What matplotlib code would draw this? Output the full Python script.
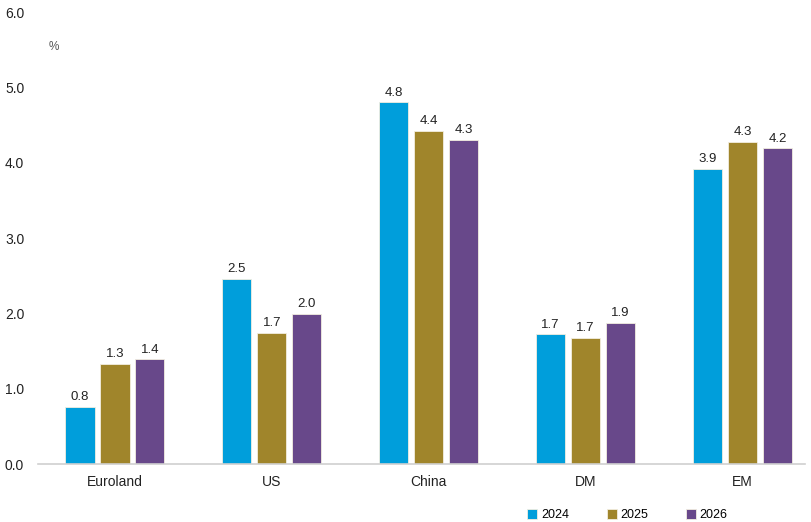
import numpy as np
import matplotlib.pyplot as plt

# GDP growth forecasts by region, %
regions = ["Euroland", "US", "China", "DM", "EM"]
years = ["2024", "2025", "2026"]
growth_2024 = [0.76, 2.46, 4.80, 1.72, 3.92]
growth_2025 = [1.33, 1.74, 4.42, 1.67, 4.28]
growth_2026 = [1.39, 1.99, 4.30, 1.87, 4.19]
y_ticks = [0.0, 1.0, 2.0, 3.0, 4.0, 5.0, 6.0]

colors = ["#009EDB", "#A0852B", "#68488A"]

plt.rcParams['font.family'] = ['Liberation Sans Narrow', 'Liberation Sans', 'DejaVu Sans']

fig = plt.figure(figsize=(8.11, 5.22), dpi=100)
ax = fig.add_axes([0.047, 0.111, 0.946, 0.866])

x = np.arange(len(regions))
width = 0.185
offset = 0.223

series = [growth_2024, growth_2025, growth_2026]
for i, (vals, col, yr) in enumerate(zip(series, colors, years)):
    bars = ax.bar(x + (i - 1) * offset, vals, width, color=col, label=yr,
                  edgecolor="#F2EEE0", linewidth=0.6, zorder=2)
    for b, v in zip(bars, vals):
        ax.text(b.get_x() + b.get_width() / 2, v + 0.05, f"{v:.1f}",
                ha="center", va="bottom", fontsize=9.5, color="#222222")

ax.set_xlim(-0.49, 4.40)
ax.set_ylim(0, 6.0)
ax.set_yticks(y_ticks)
ax.set_yticklabels([f"{t:.1f}" for t in y_ticks], fontsize=10, color="#222222")
ax.set_xticks(x)
ax.set_xticklabels(regions, fontsize=10, color="#222222")
ax.tick_params(axis="both", length=0)
ax.tick_params(axis="y", pad=10)
ax.tick_params(axis="x", pad=8)

for s in ["top", "right", "left"]:
    ax.spines[s].set_visible(False)
ax.spines["bottom"].set_color("#D0D0D0")
ax.spines["bottom"].set_linewidth(1.2)

# unit label in the top-left corner
ax.text(-0.42, 5.53, "%", fontsize=8.5, color="#555555", ha="left", va="center")

ax.legend(loc="upper left", bbox_to_anchor=(0.623, -0.075), ncol=3, frameon=False,
          fontsize=9, handlelength=0.8, handleheight=0.8, handletextpad=0.3,
          columnspacing=3.0)

fig.savefig("out.png", dpi=100)
